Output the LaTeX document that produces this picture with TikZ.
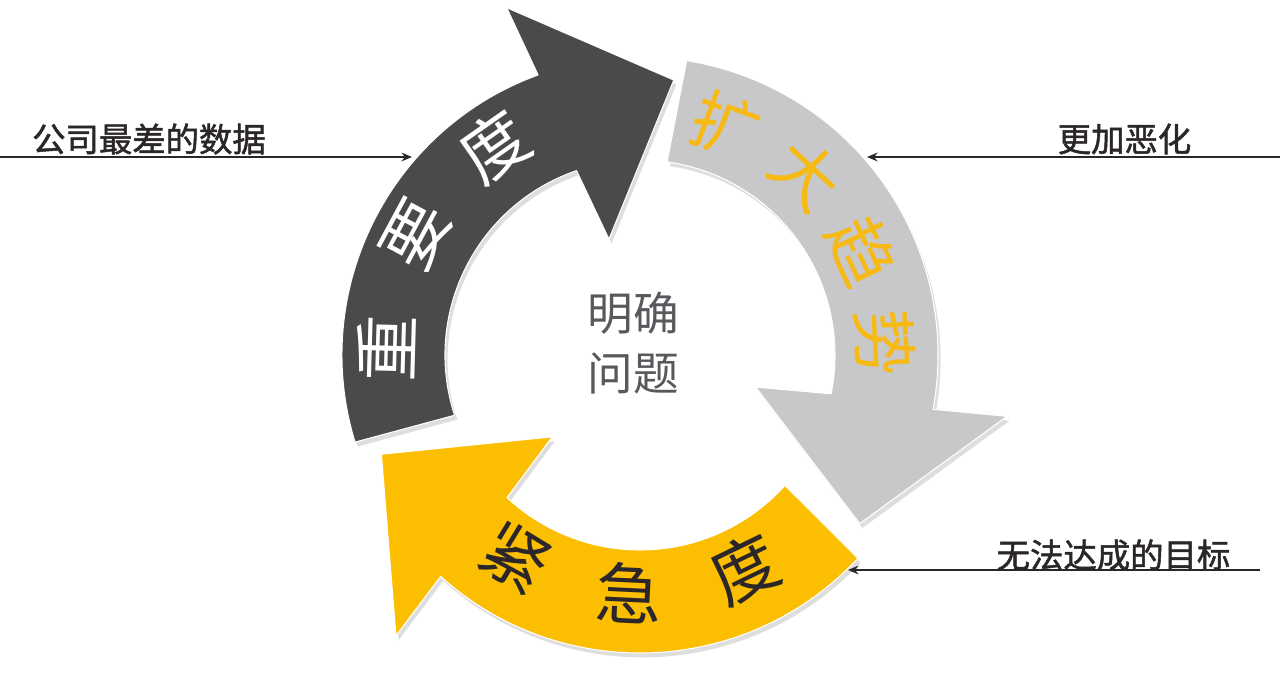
\documentclass[tikz,border=0pt]{standalone}
\usepackage{fontspec}
\newfontfamily\cjk{Noto Sans CJK SC}
\newfontfamily\cjkbold[FakeBold=1.5]{Noto Sans CJK SC}
\usetikzlibrary{arrows.meta,calc}
\definecolor{darkarr}{HTML}{4A4A4C}
\definecolor{greyarr}{HTML}{C8C8CB}
\definecolor{goldarr}{HTML}{FCBE00}
\definecolor{goldtxt}{HTML}{F7BA14}
\definecolor{midtxt}{HTML}{58585D}
\definecolor{lbltxt}{HTML}{2A262A}
\tikzset{
    arcarrow/.style = {draw=white, line width=0.6pt, line join=round},
    arcshadow/.style = {fill=black, opacity=.13},
    arcchar/.style = {font=\cjk\fontsize{38}{38}\selectfont, inner sep=0pt},
    hubtext/.style = {font=\cjk\fontsize{26}{34}\selectfont, text=midtxt, align=center, inner sep=0pt},
    sidelabel/.style = {font=\cjkbold\fontsize{19}{19}\selectfont, text=lbltxt, inner sep=0pt},
    pointer/.style = {draw=lbltxt, line width=1.1pt, -{Stealth[length=6pt,width=5pt]}}
}
% #1 tail angle, #2 head base angle (clockwise)
\def\cyclearrow#1#2{%
    (#1:298) arc[start angle=#1, end angle=#2, radius=298]
    -- ({#2+1}:372) -- ({#2-27}:277) -- ({#2-5}:120) -- ({#2-1}:195)
    arc[start angle={#2-1}, end angle={#1+1}, radius=195] -- cycle
}

\begin{document}
\begin{tikzpicture}[x=0.02cm, y=0.02cm]
    \useasboundingbox (0,0) rectangle (1280,688);
    \begin{scope}[shift={(640,333)}]
        \foreach \t/\b in {197/110, 81/-10.5, -43/-132}
            \fill[arcshadow, xshift=1.5pt, yshift=-2.5pt] \cyclearrow{\t}{\b};
        \fill[arcarrow, fill=darkarr] \cyclearrow{197}{110};
        \fill[arcarrow, fill=greyarr] \cyclearrow{81}{-10.5};
        \fill[arcarrow, fill=goldarr] \cyclearrow{-43}{-132};
        \foreach \ch [count=\i, evaluate=\i as \ang using 178.4-26.7*(\i-1)] in {重,要,度}
            \node[arcchar, text=white, rotate={\ang-90}] (imp\i) at (\ang:254) {\ch};
        \foreach \ch [count=\i, evaluate=\i as \ang using 69.5-22.2*(\i-1)] in {扩,大,趋,势}
            \node[arcchar, text=goldtxt, rotate={\ang-90}] (trend\i) at (\ang:245) {\ch};
        \foreach \ch [count=\i, evaluate=\i as \ang using 238.6+28.65*(\i-1)] in {紧,急,度}
            \node[arcchar, text=lbltxt, rotate={\ang+90}] (urg\i) at (\ang:238) {\ch};
        \node[hubtext] (hub) at (-7,12) {明确\\问题};
    \end{scope}
    \node[sidelabel] (worst) at (149,549) {公司最差的数据};
    \coordinate (worstL) at (0,531);
    \coordinate (worstR) at (412,531);
    \draw[pointer] (worstL) -- (worstR);
    \node[sidelabel] (worse) at (1124.5,549) {更加恶化};
    \coordinate (worseR) at (1280,531);
    \coordinate (worseL) at (867,531);
    \draw[pointer] (worseR) -- (worseL);
    \node[sidelabel] (goal) at (1113.5,133) {无法达成的目标};
    \coordinate (goalR) at (1260,118);
    \coordinate (goalL) at (848,118);
    \draw[pointer] (goalR) -- (goalL);
\end{tikzpicture}
\end{document}
